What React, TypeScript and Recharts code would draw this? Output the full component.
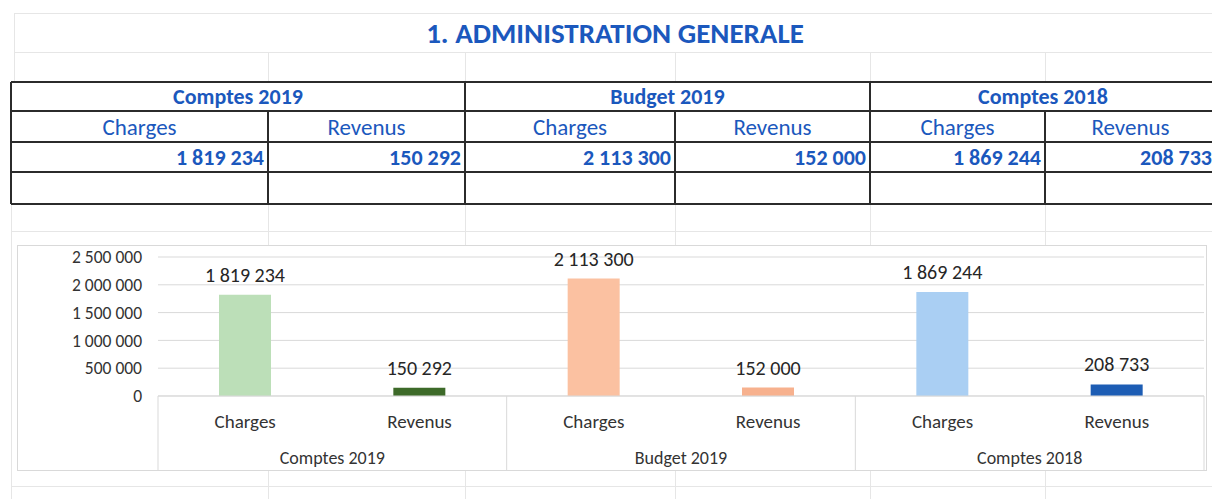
import { Bar, BarChart, CartesianGrid, Cell, LabelList, XAxis, YAxis } from 'recharts';

const groups = ['Comptes 2019', 'Budget 2019', 'Comptes 2018'];
const subs = ['Charges', 'Revenus'];
const charges = [1819234, 2113300, 1869244];
const revenus = [150292, 152000, 208733];
const barColors = ['#bcdfb8', '#3d6a29', '#fbc1a1', '#f7b18e', '#aacff3', '#1d5db4'];
const yTicks = [0, 500000, 1000000, 1500000, 2000000, 2500000];

const data = groups.flatMap((g, i) => [
  { group: g, name: subs[0], value: charges[i] },
  { group: g, name: subs[1], value: revenus[i] },
]);

const FONT = 'Carlito, Lato, "Open Sans", sans-serif';
const BLUE = '#1b58bd';
const fmt = (v: number) => String(v).replace(/\B(?=(\d{3})+(?!\d))/g, ' ');

const CHART_W = 1188;
const CHART_H = 224;
const M = { top: 11, right: 2, left: 0, bottom: 0 };
const Y_W = 140;
const BAND = (CHART_W - M.left - M.right - Y_W) / data.length;

function GroupTick(props: any) {
  const { x, y, index } = props;
  const label = data[index]?.group;
  const parts = [];
  if (index % 2 === 0) {
    parts.push(<line key="l" x1={x - BAND / 2} x2={x - BAND / 2} y1={y - 40} y2={y + 35} stroke="#d9d9d9" />);
    parts.push(
      <text key="t" x={x + BAND / 2} y={y + 24} textAnchor="middle" dominantBaseline="middle" fill="#333" fontSize={18} fontFamily={FONT}>
        {label}
      </text>
    );
  }
  if (index === data.length - 1) {
    parts.push(<line key="r" x1={x + BAND / 2} x2={x + BAND / 2} y1={y - 40} y2={y + 35} stroke="#d9d9d9" />);
  }
  return <g>{parts}</g>;
}

function ValueLabel(props: any) {
  const { x, y, width, value } = props;
  return (
    <text x={x + width / 2} y={y - 13} textAnchor="middle" fill="#262626" fontSize={20} fontFamily={FONT}>
      {fmt(Number(value))}
    </text>
  );
}

// table geometry (page px)
const cols = [11, 268, 465, 675, 870, 1045, 1216];
const rows = [82, 111, 142, 172, 204];

function Line({ x1, y1, x2, y2, c = '#2b2b2b', w = 1.5 }: any) {
  const horiz = y1 === y2;
  return (
    <div
      style={{
        position: 'absolute',
        left: horiz ? x1 : x1 - w / 2,
        top: horiz ? y1 - w / 2 : y1,
        width: horiz ? x2 - x1 : w,
        height: horiz ? w : y2 - y1,
        background: c,
      }}
    />
  );
}

function Cell2({ x1, x2, y1, y2, text, bold, align, size }: any) {
  return (
    <div
      style={{
        position: 'absolute',
        left: x1,
        top: y1,
        width: x2 - x1 - (align === 'right' ? 4 : 0),
        height: y2 - y1,
        display: 'flex',
        alignItems: 'center',
        justifyContent: align === 'right' ? 'flex-end' : 'center',
        color: BLUE,
        fontWeight: bold ? 700 : 400,
        fontSize: size,
        fontFamily: FONT,
        whiteSpace: 'nowrap',
      }}
    >
      {text}
    </div>
  );
}

export default function App() {
  const faint = '#e6e6e6';
  return (
    <div style={{ position: 'absolute', left: 0, top: 0, width: 1212, height: 499, overflow: 'hidden', background: '#fff' }}>
      {/* spreadsheet gridlines */}
      <Line x1={14} y1={13} x2={1212} y2={13} c={faint} w={1} />
      <Line x1={14} y1={52} x2={1212} y2={52} c={faint} w={1} />
      <Line x1={14} y1={13} x2={14} y2={82} c={faint} w={1} />
      <Line x1={11} y1={204} x2={11} y2={499} c={faint} w={1} />
      <Line x1={11} y1={231} x2={1212} y2={231} c={faint} w={1} />
      <Line x1={11} y1={486} x2={1212} y2={486} c={faint} w={1} />
      {[268, 465, 675, 870, 1045].map((x) => (
        <Line key={'a' + x} x1={x} y1={52} x2={x} y2={82} c={faint} w={1} />
      ))}
      {[268, 465, 675, 870, 1045].map((x) => (
        <Line key={'b' + x} x1={x} y1={204} x2={x} y2={499} c={faint} w={1} />
      ))}

      <div
        style={{
          position: 'absolute',
          left: 0,
          top: 15,
          width: 1230,
          textAlign: 'center',
          color: BLUE,
          fontFamily: FONT,
          fontWeight: 700,
          fontSize: 29,
        }}
      >
        1. ADMINISTRATION GENERALE
      </div>

      {/* table */}
      <div style={{ position: 'absolute', left: 11, top: 82, width: 1219, height: 122, background: '#fff' }} />
      {groups.map((g, i) => (
        <Cell2 key={g} x1={cols[i * 2]} x2={cols[i * 2 + 2]} y1={rows[0]} y2={rows[1]} text={g} bold size={22} />
      ))}
      {groups.map((g, i) =>
        subs.map((s, j) => (
          <Cell2 key={g + s} x1={cols[i * 2 + j]} x2={cols[i * 2 + j + 1]} y1={rows[1]} y2={rows[2]} text={s} size={23} />
        ))
      )}
      {groups.map((g, i) =>
        [charges[i], revenus[i]].map((v, j) => (
          <Cell2
            key={g + 'v' + j}
            x1={cols[i * 2 + j]}
            x2={cols[i * 2 + j + 1]}
            y1={rows[2]}
            y2={rows[3]}
            text={fmt(v)}
            bold
            align="right"
            size={22}
          />
        ))
      )}
      {rows.map((y, k) => (
        <Line key={'h' + y} x1={11} y1={y} x2={1212} y2={y} w={k === 2 ? 2.5 : 1.5} />
      ))}
      <Line x1={11} y1={rows[0]} x2={11} y2={rows[4]} />
      {[465, 870].map((x) => (
        <Line key={'g' + x} x1={x} y1={rows[0]} x2={x} y2={rows[4]} />
      ))}
      {[268, 675, 1045].map((x) => (
        <Line key={'s' + x} x1={x} y1={rows[1]} x2={x} y2={rows[4]} />
      ))}

      {/* chart */}
      <div
        style={{
          position: 'absolute',
          left: 17,
          top: 245,
          width: CHART_W,
          height: CHART_H,
          border: '1px solid #d9d9d9',
          background: '#fff',
        }}
      >
        <BarChart width={CHART_W} height={CHART_H} data={data} margin={M} barSize={52}>
          <CartesianGrid vertical={false} stroke="#d9d9d9" />
          <XAxis
            dataKey="name"
            interval={0}
            tickLine={false}
            tickSize={0}
            tickMargin={19}
            height={40}
            axisLine={{ stroke: '#d9d9d9' }}
            tick={{ fill: '#333', fontSize: 19, fontFamily: FONT }}
          />
          <XAxis
            xAxisId="group"
            dataKey="group"
            allowDuplicatedCategory
            interval={0}
            tickLine={false}
            tickSize={0}
            tickMargin={0}
            height={34}
            axisLine={false}
            tick={<GroupTick />}
          />
          <YAxis
            width={Y_W}
            domain={[0, 2500000]}
            ticks={yTicks}
            interval={0}
            axisLine={false}
            tickLine={false}
            tickSize={0}
            tickMargin={16}
            tickFormatter={fmt}
            tick={{ fill: '#333', fontSize: 17.5, fontFamily: FONT }}
          />
          <Bar dataKey="value" isAnimationActive={false}>
            {data.map((_, i) => (
              <Cell key={i} fill={barColors[i]} />
            ))}
            <LabelList dataKey="value" content={<ValueLabel />} />
          </Bar>
        </BarChart>
      </div>
    </div>
  );
}
